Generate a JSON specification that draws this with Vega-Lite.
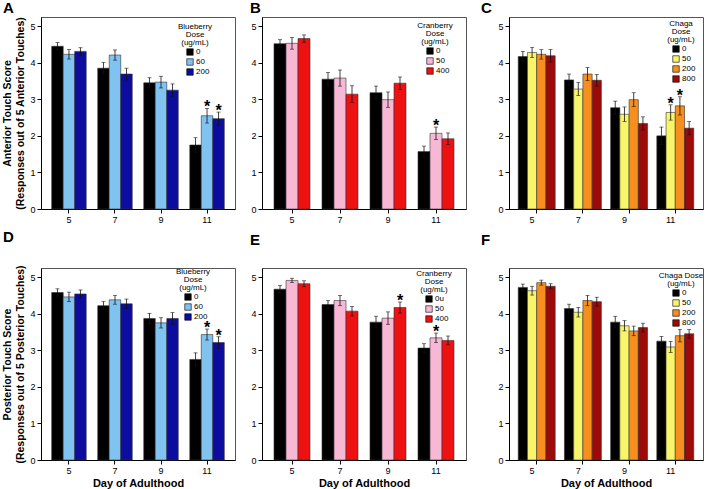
{
  "$schema": "https://vega.github.io/schema/vega-lite/v6.json",
  "background": "white",
  "padding": {"left": 2, "top": 0, "right": 4, "bottom": 0},
  "datasets": {
    "A": [
      {"day": "5", "dose": "0", "mean": 4.45, "lo": 4.35, "hi": 4.55, "sig": ""},
      {"day": "5", "dose": "60", "mean": 4.23, "lo": 4.10, "hi": 4.36, "sig": ""},
      {"day": "5", "dose": "200", "mean": 4.31, "lo": 4.21, "hi": 4.41, "sig": ""},
      {"day": "7", "dose": "0", "mean": 3.85, "lo": 3.69, "hi": 4.01, "sig": ""},
      {"day": "7", "dose": "60", "mean": 4.21, "lo": 4.07, "hi": 4.35, "sig": ""},
      {"day": "7", "dose": "200", "mean": 3.69, "lo": 3.53, "hi": 3.85, "sig": ""},
      {"day": "9", "dose": "0", "mean": 3.45, "lo": 3.31, "hi": 3.59, "sig": ""},
      {"day": "9", "dose": "60", "mean": 3.47, "lo": 3.31, "hi": 3.63, "sig": ""},
      {"day": "9", "dose": "200", "mean": 3.25, "lo": 3.08, "hi": 3.42, "sig": ""},
      {"day": "11", "dose": "0", "mean": 1.75, "lo": 1.55, "hi": 1.95, "sig": ""},
      {"day": "11", "dose": "60", "mean": 2.55, "lo": 2.35, "hi": 2.75, "sig": "*"},
      {"day": "11", "dose": "200", "mean": 2.47, "lo": 2.29, "hi": 2.65, "sig": "*"}
    ],
    "B": [
      {"day": "5", "dose": "0", "mean": 4.52, "lo": 4.41, "hi": 4.63, "sig": ""},
      {"day": "5", "dose": "50", "mean": 4.53, "lo": 4.37, "hi": 4.69, "sig": ""},
      {"day": "5", "dose": "400", "mean": 4.66, "lo": 4.56, "hi": 4.76, "sig": ""},
      {"day": "7", "dose": "0", "mean": 3.55, "lo": 3.37, "hi": 3.73, "sig": ""},
      {"day": "7", "dose": "50", "mean": 3.58, "lo": 3.36, "hi": 3.80, "sig": ""},
      {"day": "7", "dose": "400", "mean": 3.14, "lo": 2.91, "hi": 3.37, "sig": ""},
      {"day": "9", "dose": "0", "mean": 3.18, "lo": 3.00, "hi": 3.36, "sig": ""},
      {"day": "9", "dose": "50", "mean": 2.99, "lo": 2.78, "hi": 3.20, "sig": ""},
      {"day": "9", "dose": "400", "mean": 3.44, "lo": 3.27, "hi": 3.61, "sig": ""},
      {"day": "11", "dose": "0", "mean": 1.57, "lo": 1.42, "hi": 1.72, "sig": ""},
      {"day": "11", "dose": "50", "mean": 2.07, "lo": 1.90, "hi": 2.24, "sig": "*"},
      {"day": "11", "dose": "400", "mean": 1.92, "lo": 1.76, "hi": 2.08, "sig": ""}
    ],
    "C": [
      {"day": "5", "dose": "0", "mean": 4.17, "lo": 4.03, "hi": 4.31, "sig": ""},
      {"day": "5", "dose": "50", "mean": 4.28, "lo": 4.14, "hi": 4.42, "sig": ""},
      {"day": "5", "dose": "200", "mean": 4.23, "lo": 4.10, "hi": 4.36, "sig": ""},
      {"day": "5", "dose": "800", "mean": 4.19, "lo": 4.02, "hi": 4.36, "sig": ""},
      {"day": "7", "dose": "0", "mean": 3.53, "lo": 3.37, "hi": 3.69, "sig": ""},
      {"day": "7", "dose": "50", "mean": 3.28, "lo": 3.10, "hi": 3.46, "sig": ""},
      {"day": "7", "dose": "200", "mean": 3.69, "lo": 3.51, "hi": 3.87, "sig": ""},
      {"day": "7", "dose": "800", "mean": 3.52, "lo": 3.36, "hi": 3.68, "sig": ""},
      {"day": "9", "dose": "0", "mean": 2.77, "lo": 2.59, "hi": 2.95, "sig": ""},
      {"day": "9", "dose": "50", "mean": 2.59, "lo": 2.39, "hi": 2.79, "sig": ""},
      {"day": "9", "dose": "200", "mean": 2.99, "lo": 2.80, "hi": 3.18, "sig": ""},
      {"day": "9", "dose": "800", "mean": 2.34, "lo": 2.16, "hi": 2.52, "sig": ""},
      {"day": "11", "dose": "0", "mean": 2.00, "lo": 1.76, "hi": 2.24, "sig": ""},
      {"day": "11", "dose": "50", "mean": 2.64, "lo": 2.43, "hi": 2.85, "sig": "*"},
      {"day": "11", "dose": "200", "mean": 2.82, "lo": 2.57, "hi": 3.07, "sig": "*"},
      {"day": "11", "dose": "800", "mean": 2.21, "lo": 2.03, "hi": 2.39, "sig": ""}
    ],
    "D": [
      {"day": "5", "dose": "0", "mean": 4.58, "lo": 4.48, "hi": 4.68, "sig": ""},
      {"day": "5", "dose": "60", "mean": 4.46, "lo": 4.33, "hi": 4.59, "sig": ""},
      {"day": "5", "dose": "200", "mean": 4.54, "lo": 4.43, "hi": 4.65, "sig": ""},
      {"day": "7", "dose": "0", "mean": 4.22, "lo": 4.11, "hi": 4.33, "sig": ""},
      {"day": "7", "dose": "60", "mean": 4.38, "lo": 4.26, "hi": 4.50, "sig": ""},
      {"day": "7", "dose": "200", "mean": 4.27, "lo": 4.14, "hi": 4.40, "sig": ""},
      {"day": "9", "dose": "0", "mean": 3.87, "lo": 3.73, "hi": 4.01, "sig": ""},
      {"day": "9", "dose": "60", "mean": 3.75, "lo": 3.61, "hi": 3.89, "sig": ""},
      {"day": "9", "dose": "200", "mean": 3.87, "lo": 3.71, "hi": 4.03, "sig": ""},
      {"day": "11", "dose": "0", "mean": 2.75, "lo": 2.57, "hi": 2.93, "sig": ""},
      {"day": "11", "dose": "60", "mean": 3.43, "lo": 3.28, "hi": 3.58, "sig": "*"},
      {"day": "11", "dose": "200", "mean": 3.21, "lo": 3.05, "hi": 3.37, "sig": "*"}
    ],
    "E": [
      {"day": "5", "dose": "0u", "mean": 4.67, "lo": 4.57, "hi": 4.77, "sig": ""},
      {"day": "5", "dose": "50", "mean": 4.91, "lo": 4.85, "hi": 4.97, "sig": ""},
      {"day": "5", "dose": "400", "mean": 4.82, "lo": 4.74, "hi": 4.90, "sig": ""},
      {"day": "7", "dose": "0u", "mean": 4.25, "lo": 4.14, "hi": 4.36, "sig": ""},
      {"day": "7", "dose": "50", "mean": 4.36, "lo": 4.22, "hi": 4.50, "sig": ""},
      {"day": "7", "dose": "400", "mean": 4.07, "lo": 3.94, "hi": 4.20, "sig": ""},
      {"day": "9", "dose": "0u", "mean": 3.77, "lo": 3.61, "hi": 3.93, "sig": ""},
      {"day": "9", "dose": "50", "mean": 3.88, "lo": 3.71, "hi": 4.05, "sig": ""},
      {"day": "9", "dose": "400", "mean": 4.17, "lo": 4.02, "hi": 4.32, "sig": "*"},
      {"day": "11", "dose": "0u", "mean": 3.06, "lo": 2.94, "hi": 3.18, "sig": ""},
      {"day": "11", "dose": "50", "mean": 3.34, "lo": 3.21, "hi": 3.47, "sig": "*"},
      {"day": "11", "dose": "400", "mean": 3.27, "lo": 3.15, "hi": 3.39, "sig": ""}
    ],
    "F": [
      {"day": "5", "dose": "0", "mean": 4.72, "lo": 4.63, "hi": 4.81, "sig": ""},
      {"day": "5", "dose": "50", "mean": 4.63, "lo": 4.51, "hi": 4.75, "sig": ""},
      {"day": "5", "dose": "200", "mean": 4.85, "lo": 4.78, "hi": 4.92, "sig": ""},
      {"day": "5", "dose": "800", "mean": 4.75, "lo": 4.68, "hi": 4.82, "sig": ""},
      {"day": "7", "dose": "0", "mean": 4.14, "lo": 4.02, "hi": 4.26, "sig": ""},
      {"day": "7", "dose": "50", "mean": 4.04, "lo": 3.91, "hi": 4.17, "sig": ""},
      {"day": "7", "dose": "200", "mean": 4.36, "lo": 4.22, "hi": 4.50, "sig": ""},
      {"day": "7", "dose": "800", "mean": 4.33, "lo": 4.21, "hi": 4.45, "sig": ""},
      {"day": "9", "dose": "0", "mean": 3.77, "lo": 3.61, "hi": 3.93, "sig": ""},
      {"day": "9", "dose": "50", "mean": 3.67, "lo": 3.53, "hi": 3.81, "sig": ""},
      {"day": "9", "dose": "200", "mean": 3.53, "lo": 3.40, "hi": 3.66, "sig": ""},
      {"day": "9", "dose": "800", "mean": 3.62, "lo": 3.50, "hi": 3.74, "sig": ""},
      {"day": "11", "dose": "0", "mean": 3.25, "lo": 3.12, "hi": 3.38, "sig": ""},
      {"day": "11", "dose": "50", "mean": 3.09, "lo": 2.94, "hi": 3.24, "sig": ""},
      {"day": "11", "dose": "200", "mean": 3.40, "lo": 3.23, "hi": 3.57, "sig": ""},
      {"day": "11", "dose": "800", "mean": 3.45, "lo": 3.33, "hi": 3.57, "sig": ""}
    ]
  },
  "spacing": 4,
  "resolve": {"scale": {"color": "independent", "x": "independent", "y": "independent"}, "legend": {"color": "independent"}},
  "vconcat": [
    {
      "spacing": 13,
      "resolve": {"scale": {"color": "independent", "x": "independent", "y": "independent"}, "legend": {"color": "independent"}},
      "hconcat": [
        {
          "width": 194, "height": 192,
          "data": {"name": "A"},
          "transform": [{"calculate": "datum.day + '|' + datum.dose", "as": "key"}],
          "title": {"text": "A", "offset": 1},
          "encoding": {
            "x": {"field": "key", "type": "nominal", "scale": {"type": "band", "domain": ["5|0", "5|60", "5|200", "g1", "7|0", "7|60", "7|200", "g2", "9|0", "9|60", "9|200", "g3", "11|0", "11|60", "11|200"], "paddingInner": 0, "paddingOuter": 0.93}, "axis": {"title": null, "values": ["5|60", "7|60", "9|60", "11|60"], "labelExpr": "split(datum.value, '|')[0]"}}
          },
          "layer": [
            {"mark": {"type": "bar", "stroke": "#333", "strokeWidth": 0.6},
             "encoding": {
               "y": {"field": "mean", "type": "quantitative", "scale": {"domain": [0, 5.25], "nice": false}, "axis": {"values": [0, 1, 2, 3, 4, 5], "tickCount": 6, "labelOverlap": false, "title": ["Anterior Touch Score", "(Responses out of 5 Anterior Touches)"]}},
               "color": {"field": "dose", "type": "nominal", "scale": {"domain": ["0", "60", "200"], "range": ["#000000", "#80c3f0", "#0c0c9e"]}, "legend": {"title": ["Blueberry", "Dose", "(ug/mL)"], "orient": "none", "legendX": 137, "legendY": 6}}
             }},
            {"mark": {"type": "rule", "color": "#111", "strokeWidth": 0.8}, "encoding": {"y": {"field": "lo", "type": "quantitative", "axis": {"values": [0, 1, 2, 3, 4, 5], "tickCount": 6, "labelOverlap": false, "title": ["Anterior Touch Score", "(Responses out of 5 Anterior Touches)"]}}, "y2": {"field": "hi"}}},
            {"mark": {"type": "tick", "color": "#111", "size": 4, "thickness": 0.8}, "encoding": {"y": {"field": "hi", "type": "quantitative", "axis": {"values": [0, 1, 2, 3, 4, 5], "tickCount": 6, "labelOverlap": false, "title": ["Anterior Touch Score", "(Responses out of 5 Anterior Touches)"]}}}},
            {"mark": {"type": "tick", "color": "#111", "size": 4, "thickness": 0.8}, "encoding": {"y": {"field": "lo", "type": "quantitative", "axis": {"values": [0, 1, 2, 3, 4, 5], "tickCount": 6, "labelOverlap": false, "title": ["Anterior Touch Score", "(Responses out of 5 Anterior Touches)"]}}}},
            {"mark": {"type": "text", "fontSize": 16, "fontWeight": "bold", "baseline": "alphabetic", "dy": 4, "color": "#000"}, "encoding": {"y": {"field": "hi", "type": "quantitative", "axis": {"values": [0, 1, 2, 3, 4, 5], "tickCount": 6, "labelOverlap": false, "title": ["Anterior Touch Score", "(Responses out of 5 Anterior Touches)"]}}, "text": {"field": "sig"}}}
          ]
        },
        {
          "width": 204, "height": 192,
          "data": {"name": "B"},
          "transform": [{"calculate": "datum.day + '|' + datum.dose", "as": "key"}],
          "title": {"text": "B", "offset": 1},
          "encoding": {
            "x": {"field": "key", "type": "nominal", "scale": {"type": "band", "domain": ["5|0", "5|50", "5|400", "g1", "7|0", "7|50", "7|400", "g2", "9|0", "9|50", "9|400", "g3", "11|0", "11|50", "11|400"], "paddingInner": 0, "paddingOuter": 1.0}, "axis": {"title": null, "values": ["5|50", "7|50", "9|50", "11|50"], "labelExpr": "split(datum.value, '|')[0]"}}
          },
          "layer": [
            {"mark": {"type": "bar", "stroke": "#333", "strokeWidth": 0.6},
             "encoding": {
               "y": {"field": "mean", "type": "quantitative", "scale": {"domain": [0, 5.25], "nice": false}, "axis": {"values": [0, 1, 2, 3, 4, 5], "tickCount": 6, "labelOverlap": false, "title": null, "minExtent": 12}},
               "color": {"field": "dose", "type": "nominal", "scale": {"domain": ["0", "50", "400"], "range": ["#000000", "#f7b8d6", "#ee1111"]}, "legend": {"title": ["Cranberry", "Dose", "(ug/mL)"], "orient": "none", "legendX": 155, "legendY": 5}}
             }},
            {"mark": {"type": "rule", "color": "#111", "strokeWidth": 0.8}, "encoding": {"y": {"field": "lo", "type": "quantitative", "axis": {"values": [0, 1, 2, 3, 4, 5], "tickCount": 6, "labelOverlap": false, "title": null, "minExtent": 12}}, "y2": {"field": "hi"}}},
            {"mark": {"type": "tick", "color": "#111", "size": 4, "thickness": 0.8}, "encoding": {"y": {"field": "hi", "type": "quantitative", "axis": {"values": [0, 1, 2, 3, 4, 5], "tickCount": 6, "labelOverlap": false, "title": null, "minExtent": 12}}}},
            {"mark": {"type": "tick", "color": "#111", "size": 4, "thickness": 0.8}, "encoding": {"y": {"field": "lo", "type": "quantitative", "axis": {"values": [0, 1, 2, 3, 4, 5], "tickCount": 6, "labelOverlap": false, "title": null, "minExtent": 12}}}},
            {"mark": {"type": "text", "fontSize": 16, "fontWeight": "bold", "baseline": "alphabetic", "dy": 4, "color": "#000"}, "encoding": {"y": {"field": "hi", "type": "quantitative", "axis": {"values": [0, 1, 2, 3, 4, 5], "tickCount": 6, "labelOverlap": false, "title": null, "minExtent": 12}}, "text": {"field": "sig"}}}
          ]
        },
        {
          "width": 194, "height": 192,
          "data": {"name": "C"},
          "transform": [{"calculate": "datum.day + '|' + datum.dose", "as": "key"}],
          "title": {"text": "C", "offset": 1},
          "encoding": {
            "x": {"field": "key", "type": "nominal", "scale": {"type": "band", "domain": ["5|0", "5|50", "5|200", "5|800", "g1", "7|0", "7|50", "7|200", "7|800", "g2", "9|0", "9|50", "9|200", "9|800", "g3", "11|0", "11|50", "11|200", "11|800"], "paddingInner": 0, "paddingOuter": 1.04}, "axis": {"title": null, "values": ["5|50", "7|50", "9|50", "11|50"], "bandPosition": 1, "labelExpr": "split(datum.value, '|')[0]"}}
          },
          "layer": [
            {"mark": {"type": "bar", "stroke": "#333", "strokeWidth": 0.6},
             "encoding": {
               "y": {"field": "mean", "type": "quantitative", "scale": {"domain": [0, 5.25], "nice": false}, "axis": {"values": [0, 1, 2, 3, 4, 5], "tickCount": 6, "labelOverlap": false, "title": null, "minExtent": 28}},
               "color": {"field": "dose", "type": "nominal", "scale": {"domain": ["0", "50", "200", "800"], "range": ["#000000", "#f8f56a", "#f78f1e", "#9c0a0a"]}, "legend": {"title": ["Chaga", "Dose", "(ug/mL)"], "orient": "none", "legendX": 158, "legendY": 3}}
             }},
            {"mark": {"type": "rule", "color": "#111", "strokeWidth": 0.8}, "encoding": {"y": {"field": "lo", "type": "quantitative", "axis": {"values": [0, 1, 2, 3, 4, 5], "tickCount": 6, "labelOverlap": false, "title": null, "minExtent": 28}}, "y2": {"field": "hi"}}},
            {"mark": {"type": "tick", "color": "#111", "size": 4, "thickness": 0.8}, "encoding": {"y": {"field": "hi", "type": "quantitative", "axis": {"values": [0, 1, 2, 3, 4, 5], "tickCount": 6, "labelOverlap": false, "title": null, "minExtent": 28}}}},
            {"mark": {"type": "tick", "color": "#111", "size": 4, "thickness": 0.8}, "encoding": {"y": {"field": "lo", "type": "quantitative", "axis": {"values": [0, 1, 2, 3, 4, 5], "tickCount": 6, "labelOverlap": false, "title": null, "minExtent": 28}}}},
            {"mark": {"type": "text", "fontSize": 16, "fontWeight": "bold", "baseline": "alphabetic", "dy": 4, "color": "#000"}, "encoding": {"y": {"field": "hi", "type": "quantitative", "axis": {"values": [0, 1, 2, 3, 4, 5], "tickCount": 6, "labelOverlap": false, "title": null, "minExtent": 28}}, "text": {"field": "sig"}}}
          ]
        }
      ]
    },
    {
      "spacing": 13,
      "resolve": {"scale": {"color": "independent", "x": "independent", "y": "independent"}, "legend": {"color": "independent"}},
      "hconcat": [
        {
          "width": 194, "height": 192,
          "data": {"name": "D"},
          "transform": [{"calculate": "datum.day + '|' + datum.dose", "as": "key"}],
          "title": {"text": "D", "offset": 20},
          "encoding": {
            "x": {"field": "key", "type": "nominal", "scale": {"type": "band", "domain": ["5|0", "5|60", "5|200", "g1", "7|0", "7|60", "7|200", "g2", "9|0", "9|60", "9|200", "g3", "11|0", "11|60", "11|200"], "paddingInner": 0, "paddingOuter": 0.93}, "axis": {"title": "Day of Adulthood", "values": ["5|60", "7|60", "9|60", "11|60"], "labelExpr": "split(datum.value, '|')[0]"}}
          },
          "layer": [
            {"mark": {"type": "bar", "stroke": "#333", "strokeWidth": 0.6},
             "encoding": {
               "y": {"field": "mean", "type": "quantitative", "scale": {"domain": [0, 5.25], "nice": false}, "axis": {"values": [0, 1, 2, 3, 4, 5], "tickCount": 6, "labelOverlap": false, "title": ["Posterior Touch Score", "(Responses out of 5 Posterior Touches)"]}},
               "color": {"field": "dose", "type": "nominal", "scale": {"domain": ["0", "60", "200"], "range": ["#000000", "#80c3f0", "#0c0c9e"]}, "legend": {"title": ["Blueberry", "Dose", "(ug/mL)"], "orient": "none", "legendX": 135, "legendY": 0}}
             }},
            {"mark": {"type": "rule", "color": "#111", "strokeWidth": 0.8}, "encoding": {"y": {"field": "lo", "type": "quantitative", "axis": {"values": [0, 1, 2, 3, 4, 5], "tickCount": 6, "labelOverlap": false, "title": ["Posterior Touch Score", "(Responses out of 5 Posterior Touches)"]}}, "y2": {"field": "hi"}}},
            {"mark": {"type": "tick", "color": "#111", "size": 4, "thickness": 0.8}, "encoding": {"y": {"field": "hi", "type": "quantitative", "axis": {"values": [0, 1, 2, 3, 4, 5], "tickCount": 6, "labelOverlap": false, "title": ["Posterior Touch Score", "(Responses out of 5 Posterior Touches)"]}}}},
            {"mark": {"type": "tick", "color": "#111", "size": 4, "thickness": 0.8}, "encoding": {"y": {"field": "lo", "type": "quantitative", "axis": {"values": [0, 1, 2, 3, 4, 5], "tickCount": 6, "labelOverlap": false, "title": ["Posterior Touch Score", "(Responses out of 5 Posterior Touches)"]}}}},
            {"mark": {"type": "text", "fontSize": 16, "fontWeight": "bold", "baseline": "alphabetic", "dy": 4, "color": "#000"}, "encoding": {"y": {"field": "hi", "type": "quantitative", "axis": {"values": [0, 1, 2, 3, 4, 5], "tickCount": 6, "labelOverlap": false, "title": ["Posterior Touch Score", "(Responses out of 5 Posterior Touches)"]}}, "text": {"field": "sig"}}}
          ]
        },
        {
          "width": 204, "height": 192,
          "data": {"name": "E"},
          "transform": [{"calculate": "datum.day + '|' + datum.dose", "as": "key"}],
          "title": {"text": "E", "offset": 20},
          "encoding": {
            "x": {"field": "key", "type": "nominal", "scale": {"type": "band", "domain": ["5|0u", "5|50", "5|400", "g1", "7|0u", "7|50", "7|400", "g2", "9|0u", "9|50", "9|400", "g3", "11|0u", "11|50", "11|400"], "paddingInner": 0, "paddingOuter": 1.0}, "axis": {"title": "Day of Adulthood", "values": ["5|50", "7|50", "9|50", "11|50"], "labelExpr": "split(datum.value, '|')[0]"}}
          },
          "layer": [
            {"mark": {"type": "bar", "stroke": "#333", "strokeWidth": 0.6},
             "encoding": {
               "y": {"field": "mean", "type": "quantitative", "scale": {"domain": [0, 5.25], "nice": false}, "axis": {"values": [0, 1, 2, 3, 4, 5], "tickCount": 6, "labelOverlap": false, "title": null, "minExtent": 12}},
               "color": {"field": "dose", "type": "nominal", "scale": {"domain": ["0u", "50", "400"], "range": ["#000000", "#f7b8d6", "#ee1111"]}, "legend": {"title": ["Cranberry", "Dose", "(ug/mL)"], "orient": "none", "legendX": 154, "legendY": 2}}
             }},
            {"mark": {"type": "rule", "color": "#111", "strokeWidth": 0.8}, "encoding": {"y": {"field": "lo", "type": "quantitative", "axis": {"values": [0, 1, 2, 3, 4, 5], "tickCount": 6, "labelOverlap": false, "title": null, "minExtent": 12}}, "y2": {"field": "hi"}}},
            {"mark": {"type": "tick", "color": "#111", "size": 4, "thickness": 0.8}, "encoding": {"y": {"field": "hi", "type": "quantitative", "axis": {"values": [0, 1, 2, 3, 4, 5], "tickCount": 6, "labelOverlap": false, "title": null, "minExtent": 12}}}},
            {"mark": {"type": "tick", "color": "#111", "size": 4, "thickness": 0.8}, "encoding": {"y": {"field": "lo", "type": "quantitative", "axis": {"values": [0, 1, 2, 3, 4, 5], "tickCount": 6, "labelOverlap": false, "title": null, "minExtent": 12}}}},
            {"mark": {"type": "text", "fontSize": 16, "fontWeight": "bold", "baseline": "alphabetic", "dy": 4, "color": "#000"}, "encoding": {"y": {"field": "hi", "type": "quantitative", "axis": {"values": [0, 1, 2, 3, 4, 5], "tickCount": 6, "labelOverlap": false, "title": null, "minExtent": 12}}, "text": {"field": "sig"}}}
          ]
        },
        {
          "width": 194, "height": 192,
          "data": {"name": "F"},
          "transform": [{"calculate": "datum.day + '|' + datum.dose", "as": "key"}],
          "title": {"text": "F", "offset": 20},
          "encoding": {
            "x": {"field": "key", "type": "nominal", "scale": {"type": "band", "domain": ["5|0", "5|50", "5|200", "5|800", "g1", "7|0", "7|50", "7|200", "7|800", "g2", "9|0", "9|50", "9|200", "9|800", "g3", "11|0", "11|50", "11|200", "11|800"], "paddingInner": 0, "paddingOuter": 1.04}, "axis": {"title": "Day of Adulthood", "values": ["5|50", "7|50", "9|50", "11|50"], "bandPosition": 1, "labelExpr": "split(datum.value, '|')[0]"}}
          },
          "layer": [
            {"mark": {"type": "bar", "stroke": "#333", "strokeWidth": 0.6},
             "encoding": {
               "y": {"field": "mean", "type": "quantitative", "scale": {"domain": [0, 5.25], "nice": false}, "axis": {"values": [0, 1, 2, 3, 4, 5], "tickCount": 6, "labelOverlap": false, "title": null, "minExtent": 28}},
               "color": {"field": "dose", "type": "nominal", "scale": {"domain": ["0", "50", "200", "800"], "range": ["#000000", "#f8f56a", "#f78f1e", "#9c0a0a"]}, "legend": {"title": ["Chaga Dose", "(ug/mL)"], "orient": "none", "legendX": 150, "legendY": 4}}
             }},
            {"mark": {"type": "rule", "color": "#111", "strokeWidth": 0.8}, "encoding": {"y": {"field": "lo", "type": "quantitative", "axis": {"values": [0, 1, 2, 3, 4, 5], "tickCount": 6, "labelOverlap": false, "title": null, "minExtent": 28}}, "y2": {"field": "hi"}}},
            {"mark": {"type": "tick", "color": "#111", "size": 4, "thickness": 0.8}, "encoding": {"y": {"field": "hi", "type": "quantitative", "axis": {"values": [0, 1, 2, 3, 4, 5], "tickCount": 6, "labelOverlap": false, "title": null, "minExtent": 28}}}},
            {"mark": {"type": "tick", "color": "#111", "size": 4, "thickness": 0.8}, "encoding": {"y": {"field": "lo", "type": "quantitative", "axis": {"values": [0, 1, 2, 3, 4, 5], "tickCount": 6, "labelOverlap": false, "title": null, "minExtent": 28}}}},
            {"mark": {"type": "text", "fontSize": 16, "fontWeight": "bold", "baseline": "alphabetic", "dy": 4, "color": "#000"}, "encoding": {"y": {"field": "hi", "type": "quantitative", "axis": {"values": [0, 1, 2, 3, 4, 5], "tickCount": 6, "labelOverlap": false, "title": null, "minExtent": 28}}, "text": {"field": "sig"}}}
          ]
        }
      ]
    }
  ],
  "config": {
    "font": "Liberation Sans",
    "view": {"stroke": "#555", "strokeWidth": 1},
    "axis": {"grid": false, "labelFontSize": 9, "labelColor": "#000", "tickColor": "#000", "domainColor": "#000", "tickSize": 4, "labelPadding": 2, "titleFontSize": 10.5, "titleFontWeight": "bold", "titleColor": "#000", "titleLineHeight": 13, "titlePadding": 4},
    "axisX": {"labelAngle": 0, "titleFontSize": 11, "titlePadding": 2},
    "legend": {"padding": 0, "titleFontSize": 8, "titleFontWeight": "normal", "titleColor": "#000", "titleAlign": "center", "titleAnchor": "middle", "titleLineHeight": 8, "titlePadding": 1, "labelFontSize": 8, "labelColor": "#000", "labelOffset": 2, "symbolOffset": 5, "symbolType": "square", "symbolSize": 42, "symbolStrokeColor": "#000", "symbolStrokeWidth": 0.6, "symbolOpacity": 1, "rowPadding": 0},
    "title": {"fontSize": 15, "fontWeight": "bold", "anchor": "start", "frame": "bounds", "color": "#000"}
  }
}
